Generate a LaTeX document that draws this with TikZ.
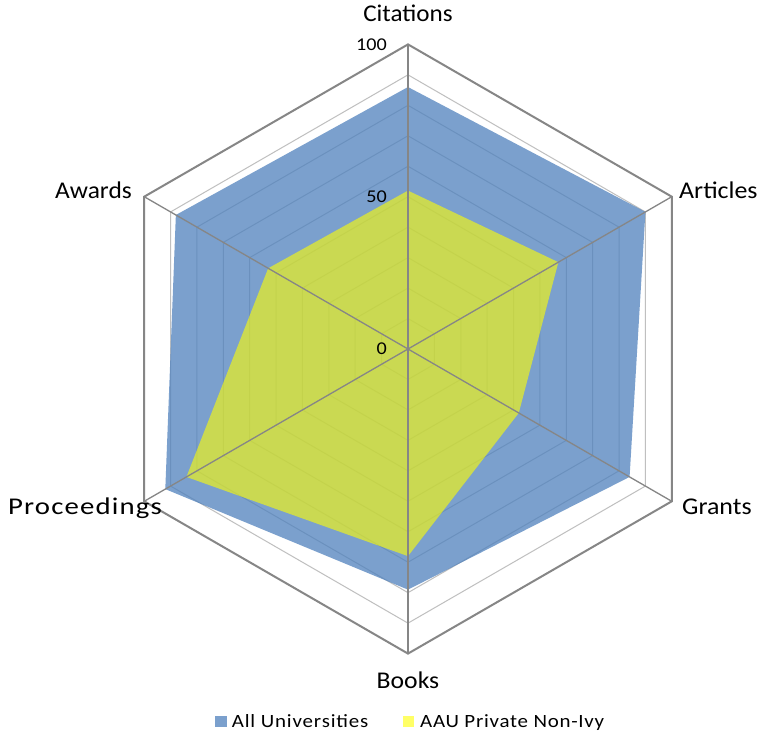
\documentclass[tikz,border=0pt]{standalone}
\usepackage{fontspec}
\setmainfont{Carlito}
\definecolor{blueS}{HTML}{4F81BD}
\definecolor{yelS}{HTML}{FFFF00}
\definecolor{axisG}{HTML}{868686}
\definecolor{ringG}{HTML}{BFBFBF}
\newcommand{\wtxt}[3]{\scalebox{#1}[1]{\addfontfeature{LetterSpace=#2}#3}}
\tikzset{
  ringline/.style={draw=ringG, line width=1pt},
  outerring/.style={draw=axisG, line width=2pt, line join=miter},
  spoke/.style={draw=axisG, line width=1.3pt},
  bluefill/.style={fill=blueS, fill opacity=0.75},
  yelfill/.style={fill=yelS, fill opacity=0.6},
  axlab/.style={font=\fontsize{24}{28}\selectfont, inner sep=0pt},
  ticklab/.style={font=\fontsize{18}{21}\selectfont, inner sep=0pt, anchor=east},
  leglab/.style={font=\fontsize{18.7}{22}\selectfont, inner sep=0pt, anchor=base west},
}
\begin{document}
\begin{tikzpicture}[x=1pt,y=1pt]
\useasboundingbox[fill=white] (-408,-385) rectangle (353,349);
\def\U{3.046}
% grid rings
\foreach \k in {1,...,9}{
  \draw[ringline] (90:{\k*10*\U}) \foreach \a in {30,-30,-90,-150,150}{ -- (\a:{\k*10*\U}) } -- cycle;
}
% data
\fill[bluefill] (90:{86*\U}) -- (30:{90*\U}) -- (-30:{84*\U}) -- (-90:{79*\U}) -- (210:{92*\U}) -- (150:{88*\U}) -- cycle;
\fill[yelfill] (90:{52*\U}) -- (30:{57*\U}) -- (-30:{42*\U}) -- (-90:{68*\U}) -- (210:{84*\U}) -- (150:{53*\U}) -- cycle;
% axes
\coordinate (O) at (0,0);
\coordinate (vCit) at (90:{100*\U});
\coordinate (vArt) at (30:{100*\U});
\coordinate (vGra) at (-30:{100*\U});
\coordinate (vBoo) at (-90:{100*\U});
\coordinate (vPro) at (210:{100*\U});
\coordinate (vAwa) at (150:{100*\U});
\foreach \v in {vCit,vArt,vGra,vBoo,vPro,vAwa}{ \draw[spoke] (O) -- (\v); }
\draw[outerring] (vCit) -- (vArt) -- (vGra) -- (vBoo) -- (vPro) -- (vAwa) -- cycle;
% tick labels
\node[ticklab] (t100) at (-21,{100*\U}) {\wtxt{1.12}{0}{100}};
\node[ticklab] (t50) at (-21,{50*\U}) {\wtxt{1.12}{0}{50}};
\node[ticklab] (t0) at (-21,0) {\wtxt{1.12}{0}{0}};
% axis labels
\node[axlab, anchor=base] (lCit) at (0,327.8) {\wtxt{1.047}{0}{Citations}};
\node[axlab, anchor=base west] (lArt) at (271,150.5) {\wtxt{1.08}{0}{Articles}};
\node[axlab, anchor=base west] (lGra) at (274,-165.5) {\wtxt{1.08}{0}{Grants}};
\node[axlab, anchor=base] (lBoo) at (0,-339.7) {\wtxt{1.07}{0}{Books}};
\node[axlab, anchor=base west] (lPro) at (-400,-165.5) {\wtxt{1.2}{4}{Proceedings}};
\node[axlab, anchor=base east] (lAwa) at (-276,150.5) {\wtxt{1.06}{0}{Awards}};
% legend
\fill[bluefill] (-193,-378) rectangle (-181.3,-366.5);
\node[leglab] (legA) at (-176.3,-378) {\wtxt{1.12}{4}{All Universities}};
\fill[yelfill] (-5.3,-378) rectangle (6.2,-366.5);
\node[leglab] (legB) at (12,-378) {\wtxt{1.12}{3.5}{AAU Private Non-Ivy}};
\end{tikzpicture}
\end{document}
